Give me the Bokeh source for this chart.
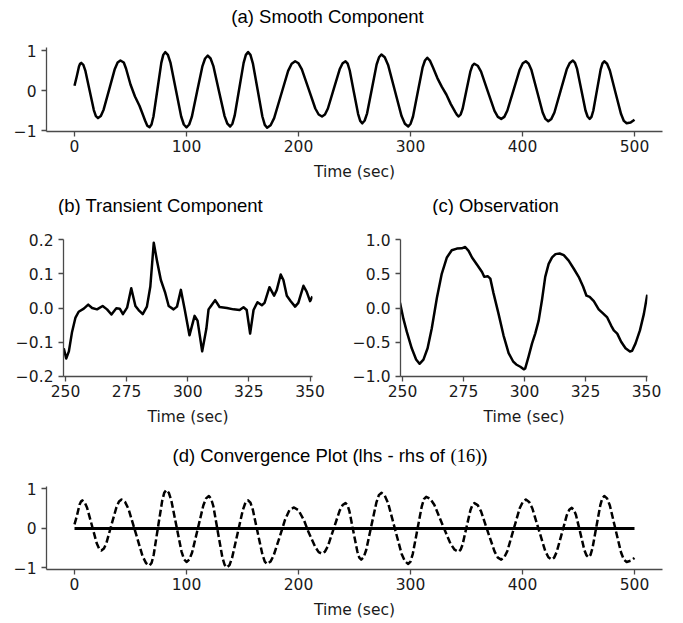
from bokeh.plotting import figure
from bokeh.layouts import column, row
from bokeh.models import Range1d, FixedTicker
from bokeh.core.properties import value
from bokeh.embed import file_html
from bokeh.resources import INLINE

# ---------------- data ----------------
# (a) smooth component
t_a = [0, 2, 4, 5, 6,
       7.9, 9.75, 13.5, 17.25, 19.1, 21,
       23.5, 26, 31, 36, 38.5, 41,
       44, 46, 50, 54, 58, 61, 63, 65, 67,
       68.75, 70.5, 74, 77.5, 79.25, 81,
       83.4, 85.75, 90.5, 95.25, 97.6, 100,
       102.4, 104.75, 109.5, 114.25, 116.6, 119,
       121.5, 124, 129, 134, 136.5, 139,
       141, 143, 147, 151, 153, 155,
       157.1, 159.25, 163.5, 167.75, 169.9, 172,
       175.1, 178.25, 184.5, 190.75, 193.9, 197,
       200, 203, 209, 215, 218, 221,
       223.6, 226.25, 231.5, 236.75, 239.4, 242,
       243.9, 245.75, 249.5, 253.25, 255.1, 257,
       259.1, 261.25, 265.5, 269.75, 271.9, 274,
       277, 280, 286, 292, 295, 298,
       300.1, 302.25, 306.5, 310.75, 312.9, 315,
       317.5, 320, 324, 328, 332, 336, 340, 341.5, 343,
       344.75, 346.5, 350, 353.5, 355.25, 357,
       360, 363, 369, 375, 378, 381,
       383.75, 386.5, 392, 397.5, 400.25, 403,
       405.5, 408, 413, 418, 420.5, 423,
       425.75, 428.5, 434, 439.5, 442.25, 445,
       446.9, 448.75, 452.5, 456.25, 458.1, 460,
       461.6, 463.25, 466.5, 469.75, 471.4, 473,
       475.5, 478, 483, 488, 490.5, 493,
       496.5, 500]
v_a = [0.12, 0.35, 0.6, 0.67, 0.69,
       0.64, 0.49, 0.0, -0.49, -0.64, -0.69,
       -0.64, -0.48, 0.03, 0.54, 0.70, 0.75,
       0.7, 0.55, 0.15, -0.15, -0.38, -0.6, -0.75, -0.88, -0.92,
       -0.85, -0.65, 0.02, 0.69, 0.89, 0.96,
       0.89, 0.69, 0.02, -0.65, -0.85, -0.92,
       -0.85, -0.66, -0.02, 0.61, 0.8, 0.87,
       0.8, 0.61, -0.02, -0.64, -0.83, -0.9,
       -0.83, -0.63, 0.03, 0.69, 0.89, 0.96,
       0.89, 0.68, 0.02, -0.65, -0.86, -0.93,
       -0.87, -0.69, -0.1, 0.49, 0.67, 0.73,
       0.68, 0.53, 0.04, -0.45, -0.6, -0.65,
       -0.6, -0.45, 0.04, 0.53, 0.68, 0.73,
       0.67, 0.5, -0.05, -0.59, -0.76, -0.82,
       -0.75, -0.57, 0.04, 0.65, 0.83, 0.9,
       0.83, 0.64, 0.0, -0.64, -0.83, -0.9,
       -0.83, -0.65, -0.04, 0.57, 0.75, 0.82,
       0.74, 0.58, 0.31, 0.09, -0.1, -0.34, -0.54, -0.61, -0.65,
       -0.6, -0.46, 0.01, 0.48, 0.62, 0.67,
       0.62, 0.47, -0.02, -0.51, -0.66, -0.71,
       -0.66, -0.5, 0.01, 0.52, 0.68, 0.73,
       0.67, 0.51, -0.02, -0.55, -0.71, -0.77,
       -0.71, -0.55, -0.01, 0.53, 0.69, 0.75,
       0.69, 0.54, 0.02, -0.5, -0.65, -0.71,
       -0.66, -0.5, 0.01, 0.52, 0.68, 0.73,
       0.67, 0.5, -0.05, -0.59, -0.76, -0.82,
       -0.8, -0.73]

# (b) transient component
t_b = [249.3, 250.3, 251.4, 252.7, 254.1, 255.4, 257.5, 259.3, 260.9, 262.9, 265.2, 267.0,
       268.8, 270.8, 272.2, 273.5, 275.2, 276.9, 278.6, 279.9, 281.6, 283.3, 284.7, 286.1,
       287.4, 289.0, 290.8, 292.2, 294.2, 295.6, 297.2, 298.7, 300.7, 302.8, 304.0, 305.9,
       307.6, 308.5, 309.5, 311.2, 313.0, 316.0, 318.7, 321.2, 322.8, 324.1, 325.5, 326.9,
       328.5, 330.3, 331.4, 333.4, 335.3, 336.4, 338.0, 339.1, 340.5, 342.1, 343.9, 345.2,
       347.3, 348.6, 350.0, 351.0]
v_b = [-0.118, -0.148, -0.127, -0.07, -0.028, -0.011, -0.002, 0.01, 0.0, -0.004, 0.006, -0.004,
       -0.019, -0.001, -0.002, -0.018, 0.001, 0.058, 0.006, -0.006, -0.018, 0.004, 0.063, 0.191,
       0.139, 0.082, 0.044, 0.006, -0.004, 0.004, 0.053, -0.002, -0.08, -0.023, -0.037, -0.127,
       -0.061, -0.004, 0.006, 0.023, 0.003, 0.0, -0.004, -0.006, 0.002, -0.006, -0.075, -0.006,
       0.017, 0.008, 0.015, 0.061, 0.036, 0.053, 0.098, 0.082, 0.036, 0.02, 0.004, 0.015,
       0.065, 0.048, 0.02, 0.034]

# (c) observation
t_c = [249.0, 250.4, 251.8, 253.8, 255.6, 257.0, 258.6, 260.3, 262.0, 264.1, 266.1, 268.2,
       270.2, 272.3, 274.3, 275.7, 277.1, 278.5, 280.5, 282.6, 283.5, 284.9, 286.0, 287.3,
       289.4, 291.4, 293.5, 295.3, 296.6, 298.3, 299.7, 300.3, 301.7, 303.1, 304.4, 305.8,
       307.2, 308.5, 309.9, 311.3, 312.7, 314.4, 316.1, 318.1, 320.2, 322.2, 324.0, 325.4,
       326.7, 328.4, 330.4, 332.5, 333.9, 335.5, 336.6, 338.0, 339.6, 341.4, 343.2, 344.1,
       345.5, 347.3, 348.9, 350.3]
v_c = [0.076, -0.16, -0.35, -0.59, -0.755, -0.817, -0.755, -0.59, -0.3, 0.147, 0.5, 0.74,
       0.846, 0.87, 0.874, 0.893, 0.836, 0.74, 0.637, 0.527, 0.456, 0.466, 0.43, 0.218,
       -0.09, -0.4, -0.66, -0.78, -0.827, -0.86, -0.898, -0.884, -0.708, -0.518, -0.375, -0.185,
       0.124, 0.456, 0.646, 0.741, 0.789, 0.798, 0.774, 0.694, 0.575, 0.456, 0.314, 0.18,
       0.162, 0.1, -0.019, -0.09, -0.138, -0.257, -0.328, -0.375, -0.494, -0.589, -0.637, -0.627,
       -0.518, -0.328, -0.09, 0.195]

# (d) convergence plot (dashed series) and zero line
t_d = [0, 2, 4.5, 5.8, 7,
       9.1, 11.25, 15.5, 19.75, 21.9, 24,
       26.25, 28.5, 33, 37.5, 39.75, 42,
       45.1, 48.25, 54.5, 60.75, 63.9, 67,
       68.9, 70.75, 74.5, 78.25, 80.1, 82,
       84.25, 86.5, 91, 95.5, 97.75, 100,
       102.5, 105, 110, 115, 117.5, 120,
       122, 124, 128, 132, 134, 136,
       138.4, 140.75, 145.5, 150.25, 152.6, 155,
       157.1, 159.25, 163.5, 167.75, 169.9, 172,
       175, 177.75, 183.5, 188, 192, 196,
       200, 205, 209, 215, 218, 221,
       223.6, 226.25, 231.5, 236.75, 239.4, 242,
       243.75, 245.5, 249, 252.5, 254.25, 256,
       258.25, 260.5, 265, 269.5, 271.75, 274,
       277, 280, 286, 292, 295, 298,
       300, 302, 306, 310, 312, 314,
       317.6, 321.25, 328.5, 335.75, 339.4, 343,
       344.75, 346.5, 350, 353.5, 355.25, 357,
       360, 363, 369, 375, 378, 381,
       383.75, 386.5, 392, 397.5, 400.25, 403,
       405.9, 408.75, 414.5, 420.25, 423.1, 426,
       428.25, 430.5, 435, 439.5, 441.75, 444,
       445.9, 447.75, 451.5, 455.25, 457.1, 459,
       460.75, 462.5, 466, 469.5, 471.25, 473,
       475.5, 478, 483, 488, 490.5, 493,
       496.5, 500]
v_d = [0.1, 0.3, 0.6, 0.68, 0.71,
       0.66, 0.52, 0.08, -0.37, -0.51, -0.56,
       -0.51, -0.37, 0.09, 0.54, 0.68, 0.73,
       0.67, 0.49, -0.1, -0.7, -0.88, -0.94,
       -0.87, -0.66, 0.02, 0.69, 0.9, 0.97,
       0.9, 0.7, 0.06, -0.58, -0.78, -0.85,
       -0.79, -0.61, -0.02, 0.58, 0.76, 0.82,
       0.75, 0.56, -0.09, -0.73, -0.92, -0.99,
       -0.93, -0.74, -0.14, 0.46, 0.65, 0.71,
       0.65, 0.47, -0.1, -0.66, -0.84, -0.9,
       -0.84, -0.69, -0.19, 0.22, 0.47, 0.53,
       0.46, 0.2, -0.1, -0.47, -0.6, -0.64,
       -0.59, -0.45, 0.0, 0.45, 0.59, 0.64,
       0.59, 0.43, -0.08, -0.58, -0.74, -0.79,
       -0.73, -0.54, 0.06, 0.65, 0.84, 0.9,
       0.83, 0.64, 0.0, -0.64, -0.83, -0.9,
       -0.84, -0.65, -0.05, 0.55, 0.74, 0.8,
       0.75, 0.6, 0.1, -0.39, -0.54, -0.59,
       -0.54, -0.41, 0.03, 0.46, 0.59, 0.64,
       0.59, 0.43, -0.08, -0.58, -0.74, -0.79,
       -0.73, -0.57, -0.03, 0.51, 0.67, 0.73,
       0.67, 0.51, -0.03, -0.57, -0.73, -0.79,
       -0.74, -0.6, -0.14, 0.33, 0.47, 0.52,
       0.47, 0.34, -0.1, -0.55, -0.68, -0.73,
       -0.67, -0.5, 0.05, 0.59, 0.76, 0.82,
       0.76, 0.58, -0.02, -0.61, -0.79, -0.85,
       -0.82, -0.75]
zero_t = [0, 500]
zero_v = [0, 0]

# ticks
xt_long = [0, 100, 200, 300, 400, 500]
xl_long = ["0", "100", "200", "300", "400", "500"]
yt_long = [-1, 0, 1]
yl_long = ["\u22121", "0", "1"]
xt_mid = [250, 275, 300, 325, 350]
xl_mid = ["250", "275", "300", "325", "350"]
yt_b = [-0.2, -0.1, 0.0, 0.1, 0.2]
yl_b = ["\u22120.2", "\u22120.1", "0.0", "0.1", "0.2"]
yt_c = [-1.0, -0.5, 0.0, 0.5, 1.0]
yl_c = ["\u22121.0", "\u22120.5", "0.0", "0.5", "1.0"]

title_a = "(a) Smooth Component"
title_b = "(b) Transient Component"
title_c = "(c) Observation"
title_d = ["(d) Convergence Plot (lhs - rhs of ", "(16)", ")"]
xlabel = "Time (sec)"

SPINE = "#4a4a4a"
TICKFONT = "DejaVu Sans"
TITLEFONT = "Liberation Sans"
FS = "15.5px"
TFS = "18.5px"
W = 683
LEFT, RIGHT = 46, 21


def make_fig(w, h, left, right, top, bottom, xr, yr, xt, xl, yt, yl):
    p = figure(width=w, height=h, output_backend="svg", toolbar_location=None, title=None,
               x_range=Range1d(*xr), y_range=Range1d(*yr),
               min_border_left=left, min_border_right=right,
               min_border_top=top, min_border_bottom=bottom)
    p.outline_line_color = None
    p.grid.visible = False
    p.xaxis.ticker = FixedTicker(ticks=xt)
    p.xaxis.major_label_overrides = {t: l for t, l in zip(xt, xl)}
    p.yaxis.ticker = FixedTicker(ticks=yt)
    p.yaxis.major_label_overrides = {t: l for t, l in zip(yt, yl)}
    for ax in (p.xaxis, p.yaxis):
        ax.axis_line_color = SPINE
        ax.axis_line_width = 1.3
        ax.major_tick_line_color = SPINE
        ax.major_tick_line_width = 1.3
        ax.major_tick_in = 0
        ax.major_tick_out = 5
        ax.minor_tick_line_color = None
        ax.major_label_text_font = TICKFONT
        ax.major_label_text_font_size = FS
        ax.major_label_text_color = "#1a1a1a"
    p.xaxis.major_label_standoff = 3
    p.yaxis.major_label_standoff = 5
    p.xaxis.axis_label = xlabel
    p.xaxis.axis_label_text_font = TICKFONT
    p.xaxis.axis_label_text_font_size = FS
    p.xaxis.axis_label_text_font_style = "normal"
    p.xaxis.axis_label_text_color = "#1a1a1a"
    p.xaxis.axis_label_standoff = 8
    return p


def title_fig(h):
    # frame spans the same pixels as the wide panels, so x in data = x in pixels
    p = figure(width=W, height=h, output_backend="svg", toolbar_location=None, title=None,
               x_range=Range1d(LEFT, W - RIGHT), y_range=Range1d(0, h),
               min_border_left=LEFT, min_border_right=RIGHT,
               min_border_top=0, min_border_bottom=0)
    p.outline_line_color = None
    p.grid.visible = False
    p.axis.visible = False
    return p


def put_text(p, x, y, text, align="center", font=TITLEFONT):
    p.text(x=[x], y=[y], text=[text], text_font=value(font), text_font_size=TFS,
           text_color="black", text_align=align, text_baseline="middle")


# title row (a)
ta = title_fig(30)
put_text(ta, 327, 14, title_a)

# (a)
pa = make_fig(W, 155, LEFT, RIGHT, 17, 54, (-25, 525), (-1.025, 1.075),
              xt_long, xl_long, yt_long, yl_long)
pa.line(t_a, v_a, line_color="black", line_width=2.5, line_join="round")

# title row (b), (c)
tbc = title_fig(30)
put_text(tbc, 160, 10, title_b)
put_text(tbc, 495, 10, title_c)

# (b)
pb = make_fig(340, 213, 63, 28, 24, 49, (249.2, 351.0), (-0.2005, 0.2005),
              xt_mid, xl_mid, yt_b, yl_b)
pb.line(t_b, v_b, line_color="black", line_width=2.5, line_join="round")

# (c)
pc = make_fig(343, 213, 60, 36, 24, 49, (249.2, 350.4), (-1.003, 1.003),
              xt_mid, xl_mid, yt_c, yl_c)
pc.line(t_c, v_c, line_color="black", line_width=2.5, line_join="round")

# title row (d)
td = title_fig(42)
put_text(td, 172, 15, title_d[0], align="left")
put_text(td, 450, 15, title_d[1], align="left", font="Liberation Serif")
put_text(td, 481, 15, title_d[2], align="left")

# (d)
pd = make_fig(W, 153, LEFT, RIGHT, 16, 54, (-25, 525), (-1.04, 1.06),
              xt_long, xl_long, yt_long, yl_long)
pd.line(t_d, v_d, line_color="black", line_width=2.5, line_dash="7 3", line_join="round")
pd.line(zero_t, zero_v, line_color="black", line_width=3)

layout = column(ta, pa, tbc, row(pb, pc), td, pd)
open("out.html", "w").write(file_html(layout, INLINE))
